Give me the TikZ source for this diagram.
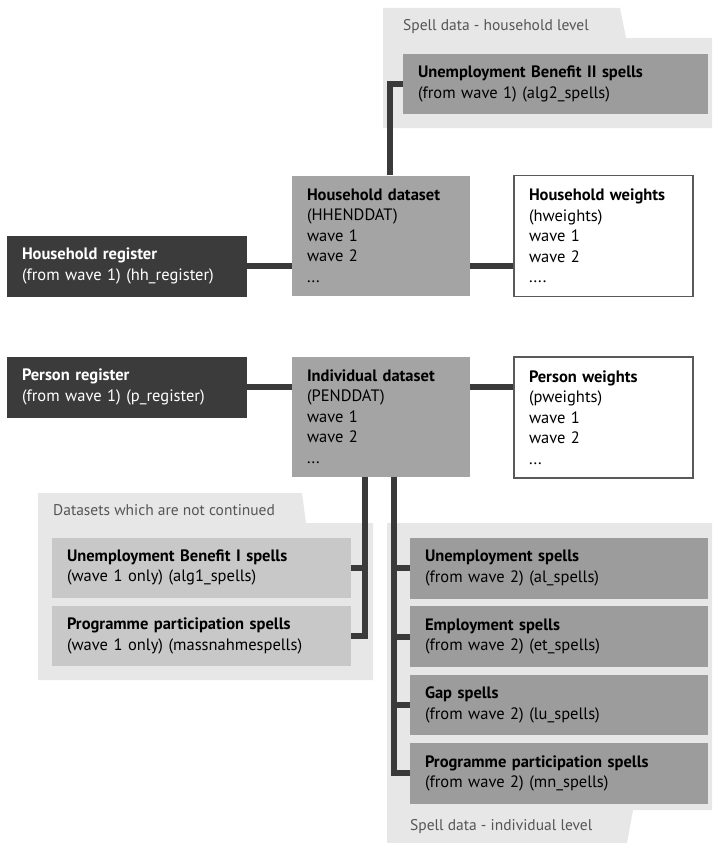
\documentclass[tikz,border=0pt]{standalone}
\usepackage{fontspec}
\setmainfont{PT Sans}
\usetikzlibrary{positioning}

\definecolor{regfill}{HTML}{3B3B3B}
\definecolor{datfill}{HTML}{A4A4A4}
\definecolor{spellfill}{HTML}{9C9C9C}
\definecolor{oldfill}{HTML}{C8C8C8}
\definecolor{panelfill}{HTML}{E7E7E7}
\definecolor{wgtline}{HTML}{595959}
\definecolor{linecol}{HTML}{3A3A3A}
\definecolor{tabtext}{HTML}{555555}

\tikzset{
  base/.style={inner xsep=15pt, inner ysep=0pt, align=left, font=\fontsize{16.5}{20.5}\selectfont},
  reg/.style={base, fill=regfill, text=white, text width=210pt, minimum height=61pt},
  dat/.style={base, fill=datfill, text width=148pt, minimum height=120pt},
  wgt/.style={base, fill=white, draw=wgtline, line width=1.5pt, text width=149pt, minimum height=121pt},
  spell/.style={base, fill=spellfill, text width=268pt, minimum height=60.5pt},
  old/.style={base, fill=oldfill, text width=269pt, minimum height=60pt},
  tab/.style={anchor=west, inner sep=0pt, text=tabtext, font=\fontsize{15.5}{18}\selectfont},
  link/.style={draw=linecol, line width=6pt},
}

\begin{document}
\begin{tikzpicture}[x=1pt, y=-1pt]
\useasboundingbox (0,0) rectangle (712,843);

% panels
\fill[panelfill] (383,8) -- (620,8) -- (626,38) -- (712,38) -- (712,128) -- (383,128) -- cycle;
\fill[panelfill] (38,493) -- (302,493) -- (306,523) -- (373,523) -- (373,680) -- (38,680) -- cycle;
\fill[panelfill] (387,523) -- (712,523) -- (712,810) -- (633,810) -- (627,843) -- (387,843) -- cycle;

\node (hhlab) [tab] at (403,27) {Spell data - household level};
\node (oldlab) [tab] at (53,510) {Datasets which are not continued};
\node (plab) [tab] at (410,827) {Spell data - individual level};

% household level
\node (alg2) [spell, text width=275pt, minimum height=60pt] at (555.5,84) {\textbf{Unemployment Benefit II spells}\\(from wave 1) (alg2\_spells)};
\node (hhreg) [reg] at (127,266) {\textbf{Household register}\\(from wave 1) (hh\_register)};
\node (hhdat) [dat] at (381,235.5) {\textbf{Household dataset}\\(HHENDDAT)\\wave 1\\wave 2\\...};
\node (hhwgt) [wgt] at (603.5,236) {\textbf{Household weights}\\(hweights)\\wave 1\\wave 2\\....};

% individual level
\node (preg) [reg] at (127,387) {\textbf{Person register}\\(from wave 1) (p\_register)};
\node (pdat) [dat] at (381,416.5) {\textbf{Individual dataset}\\(PENDDAT)\\wave 1\\wave 2\\...};
\node (pwgt) [wgt] at (603.5,417.5) {\textbf{Person weights}\\(pweights)\\wave 1\\wave 2\\...};

\node (alg1) [old] at (201.5,567.5) {\textbf{Unemployment Benefit I spells}\\(wave 1 only) (alg1\_spells)};
\node (mass) [old, below=8pt of alg1] {\textbf{Programme participation spells}\\(wave 1 only) (massnahmespells)};

\node (al) [spell] at (559,568.25) {\textbf{Unemployment spells}\\(from wave 2) (al\_spells)};
\node (et) [spell, below=7.5pt of al] {\textbf{Employment spells}\\(from wave 2) (et\_spells)};
\node (lu) [spell, below=7.5pt of et] {\textbf{Gap spells}\\(from wave 2) (lu\_spells)};
\node (mn) [spell, below=7.5pt of lu] {\textbf{Programme participation spells}\\(from wave 2) (mn\_spells)};

% connectors
\draw[link] (hhreg.east) -- (hhreg.east -| hhdat.west);
\draw[link] (hhdat.east |- hhreg.east) -- (hhwgt.west |- hhreg.east);
\draw[link] ([xshift=9pt]hhdat.north) |- (alg2.west);
\draw[link] (preg.east) -- (preg.east -| pdat.west);
\draw[link] (pdat.east |- preg.east) -- (pwgt.west |- preg.east);

\coordinate (sl) at ([xshift=-16pt]pdat.south);
\coordinate (sr) at ([xshift=13pt]pdat.south);
\draw[link] (sl) |- (mass.east);
\draw[link] (alg1.east) -- (alg1.east -| sl);
\draw[link] (sr) |- (mn.west);
\foreach \n in {al,et,lu}
  \draw[link] (\n.west) -- (\n.west -| sr);

\end{tikzpicture}
\end{document}
